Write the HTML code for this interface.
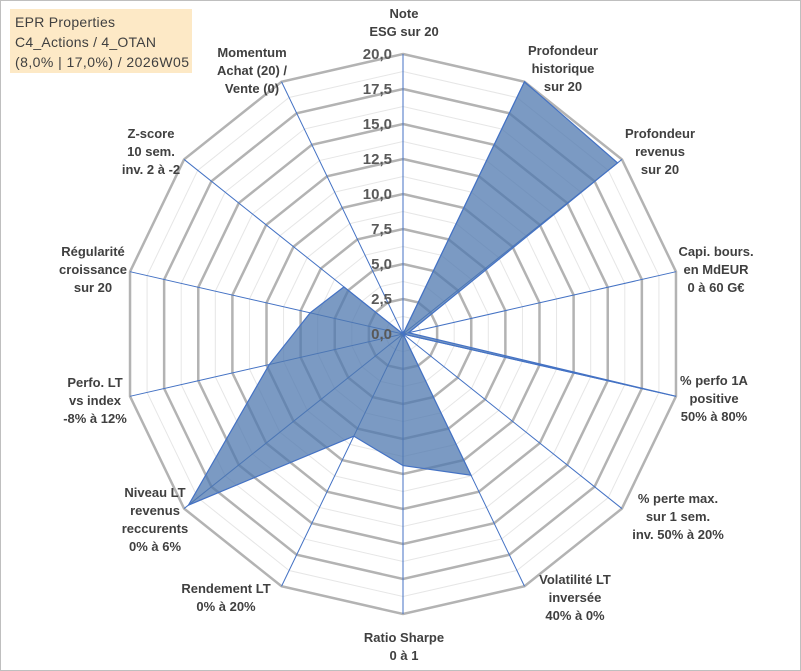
<!DOCTYPE html>
<html><head><meta charset="utf-8"><style>
body{margin:0;background:#fff}
svg{display:block;font-family:"Liberation Sans",Arial,sans-serif}
</style></head><body>
<svg id="chart" width="801" height="671">
<rect x="0.5" y="0.5" width="800" height="670" fill="#fff" stroke="#bfbfbf"/>
<g id="grid"></g><g id="series"></g><g id="labels"></g><g id="ticks"></g>
<rect x="10" y="9" width="182" height="64" fill="#fde9c6"/>
<text x="15" y="27" font-size="14" fill="#404040" textLength="100">EPR Properties</text>
<text x="15" y="47" font-size="14" fill="#404040" textLength="141">C4_Actions / 4_OTAN</text>
<text x="15" y="67" font-size="14" fill="#404040" textLength="174">(8,0% | 17,0%) / 2026W05</text>
</svg>
<script>
const categories=[["Note","ESG sur 20"],["Profondeur","historique","sur 20"],["Profondeur","revenus","sur 20"],["Capi. bours.","en MdEUR","0 à 60 G€"],["% perfo 1A","positive","50% à 80%"],["% perte max.","sur 1 sem.","inv. 50% à 20%"],["Volatilité LT","inversée","40% à 0%"],["Ratio Sharpe","0 à 1"],["Rendement LT","0% à 20%"],["Niveau LT","revenus","reccurents","0% à 6%"],["Perfo. LT","vs index","-8% à 12%"],["Régularité","croissance","sur 20"],["Z-score","10 sem.","inv. 2 à -2"],["Momentum","Achat (20) /","Vente (0)"]];
const values=[0,20,19.6,0.4,20,0,11.2,9.4,8.1,19.6,9.8,6.8,5.4,0];
const tickLabels=["0,0","2,5","5,0","7,5","10,0","12,5","15,0","17,5","20,0"];
const maxV=20;
// label layout (pixel anchor of first line centre) - layout, not data
const labelPos=[[404,13],[563,50],[660,133],[716,251],[714,380],[678,498],[575,579],[404,637],[226,588],[155,492],[95,382],[93,251],[151,133],[252,52]];
const cx=403,cy=334,R=280,N=categories.length;
const NS="http://www.w3.org/2000/svg";
function ang(i){return i*2*Math.PI/N;}
function pt(i,v){const r=v/maxV*R;return [cx+r*Math.sin(ang(i)),cy-r*Math.cos(ang(i))];}
function mk(tag,attrs,parent){const e=document.createElementNS(NS,tag);for(const k in attrs)e.setAttribute(k,attrs[k]);parent.appendChild(e);return e;}
const grid=document.getElementById('grid');
for(let k=1;k<=16;k++){
  const v=k*maxV/16;const pts=[];
  for(let i=0;i<N;i++)pts.push(pt(i,v).join(','));
  const major=k%2===0;
  const p=mk('polygon',{points:pts.join(' '),fill:'none',stroke:major?'#b3b3b3':'#e6e6e6','stroke-width':major?2.5:1},grid);
  
  
}
for(let i=0;i<N;i++){
  const [x,y]=pt(i,maxV);
  const l=mk('line',{x1:cx,y1:cy,x2:x,y2:y,stroke:'#4472c4','stroke-width':1},grid);
  
  
}
const ser=document.getElementById('series');
const sp=values.map((v,i)=>pt(i,v).join(',')).join(' ');
const poly=mk('polygon',{points:sp,fill:'rgba(79,120,175,0.75)',stroke:'#4472c4','stroke-width':1.2},ser);


const tk=document.getElementById('ticks');
tickLabels.forEach((t,k)=>{
  const v=k*maxV/(tickLabels.length-1);
  const y=cy-v/maxV*R;
  const e=mk('text',{x:cx-11,y:y+5,'text-anchor':'end','font-size':15,'font-weight':'bold',fill:'#595959'},tk);
  e.textContent=t;
  
  
});
const lb=document.getElementById('labels');
categories.forEach((lines,i)=>{
  const [x,y0]=labelPos[i];
  lines.forEach((t,j)=>{
    const e=mk('text',{x:x,y:y0+5+j*18,'text-anchor':'middle','font-size':13,'font-weight':'bold',fill:'#404040'},lb);
    e.textContent=t;
    
    
  });
});
</script>
</body></html>
